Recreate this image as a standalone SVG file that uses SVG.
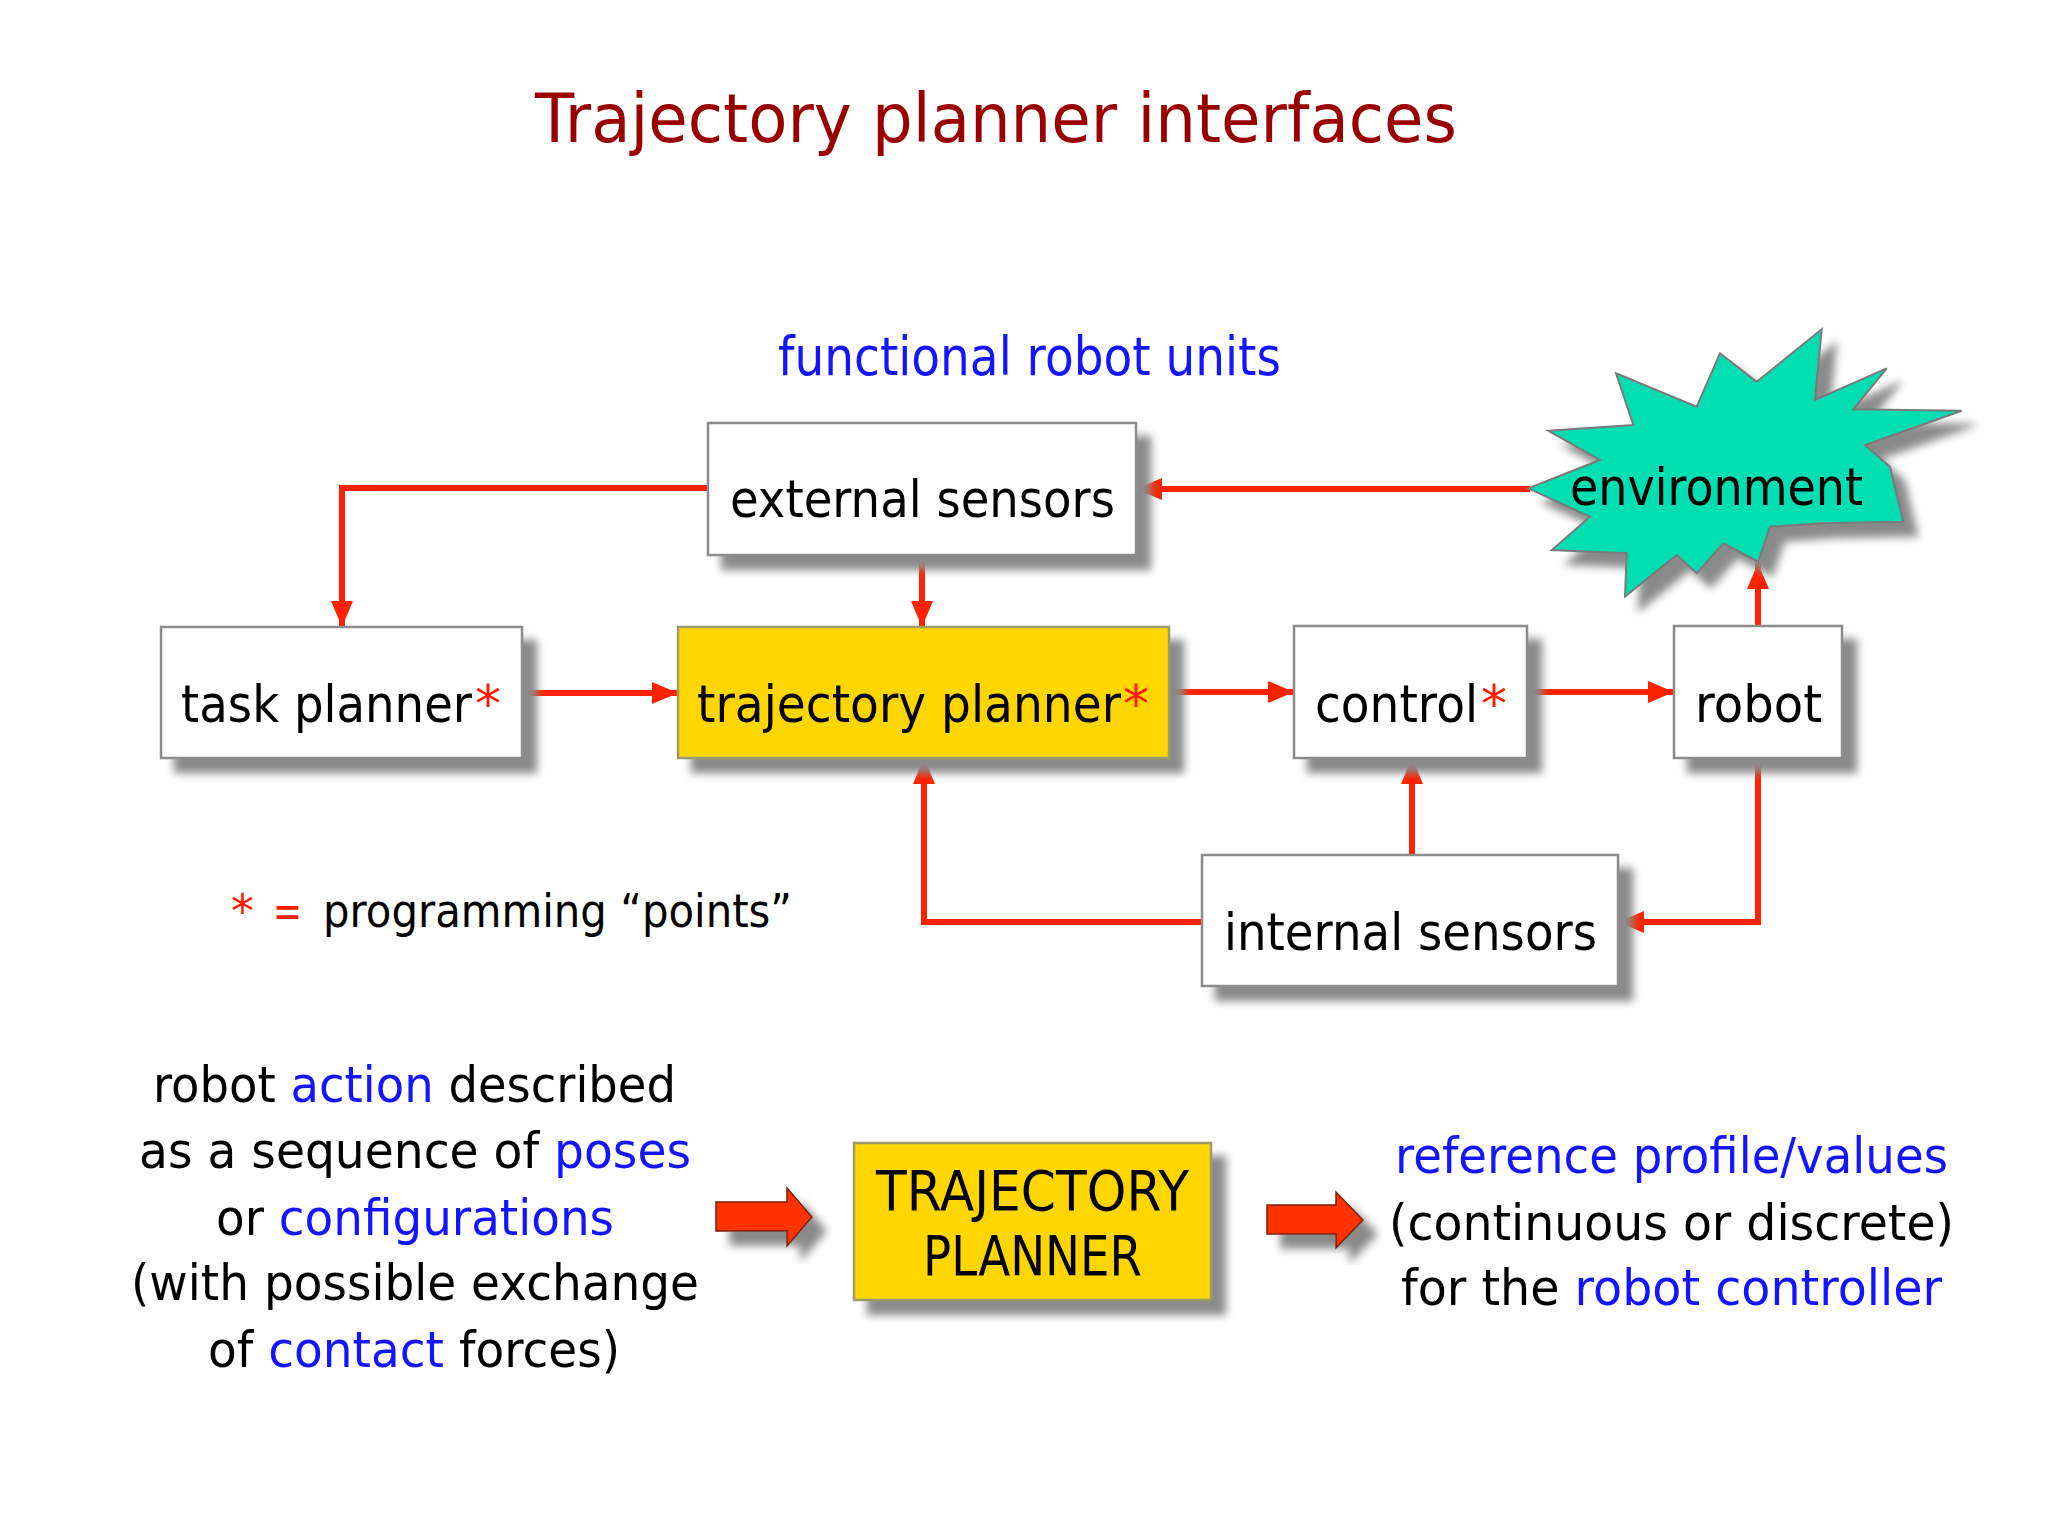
<svg xmlns="http://www.w3.org/2000/svg" width="2048" height="1536" viewBox="0 0 2048 1536">
<defs>
<style>
text{font-family:"DejaVu Sans","Liberation Sans",sans-serif;}
.box{fill:#ffffff;stroke:#8c8c8c;stroke-width:2.5;}
.yel{fill:#ffd600;stroke:#9a9a6a;stroke-width:2.5;}
.lbl{font-size:52px;fill:#000;}
.big{font-size:50px;fill:#000;}
.red{fill:#ff1a00;}
.blue{fill:#1414ff;}
.conn{fill:none;stroke:#ff2200;stroke-width:6;marker-end:url(#ah);}
</style>
<filter id="sh" x="-10%" y="-10%" width="130%" height="140%">
<feGaussianBlur in="SourceAlpha" stdDeviation="4"/>
<feOffset dx="14" dy="14" result="b"/>
<feFlood flood-color="#8a8a8a"/>
<feComposite in2="b" operator="in"/>
<feMerge><feMergeNode/><feMergeNode in="SourceGraphic"/></feMerge>
</filter>
<marker id="ah" viewBox="0 0 26 22" refX="26" refY="11" markerWidth="26" markerHeight="22" markerUnits="userSpaceOnUse" orient="auto">
<path d="M0,0 L26,11 L0,22 z" fill="#ff2200"/>
</marker>
</defs>
<rect width="2048" height="1536" fill="#ffffff"/>

<text id="title" x="535" y="142" font-size="68" fill="#9b0000" textLength="922" lengthAdjust="spacingAndGlyphs">Trajectory planner interfaces</text>
<text id="subtitle" x="778" y="375" font-size="54" class="blue" textLength="503" lengthAdjust="spacingAndGlyphs">functional robot units</text>

<g id="connectors">
<path class="conn" d="M708,488 H342 V627"/>
<path class="conn" d="M922,555 V627"/>
<path class="conn" d="M522,693 H678"/>
<path class="conn" d="M1169,692 H1294"/>
<path class="conn" d="M1527,692 H1674"/>
<path class="conn" d="M1758,626 V563"/>
<path class="conn" d="M1530,489 H1136"/>
<path class="conn" d="M1758,758 V922 H1618"/>
<path class="conn" d="M1412,855 V758"/>
<path class="conn" d="M1202,922 H924 V758"/>
</g>

<g id="external-sensors">
<rect class="box" x="708" y="423" width="428" height="132" filter="url(#sh)"/>
<text class="lbl" x="730" y="517" textLength="385" lengthAdjust="spacingAndGlyphs">external sensors</text>
</g>

<g id="environment">
<polygon points="1821.7,329.3 1815,400 1886.7,368.3 1853.3,409.3 1961.7,410.7 1865,445 1890,466.7 1903.3,521.7 1821.7,523.3 1770,526.7 1758.3,561.7 1723.3,543.3 1696.7,573.3 1676.7,555 1625,596.7 1626.7,553.3 1551.7,550 1590,516.7 1528.3,488.3 1600,460 1548.3,430.7 1633.3,425 1616,373.3 1696.7,406.7 1720,353.3 1756.7,381.7" fill="#00deb2" stroke="#7a7a7a" stroke-width="2" filter="url(#sh)"/>
<text class="lbl" x="1570" y="505" textLength="293" lengthAdjust="spacingAndGlyphs">environment</text>
</g>

<g id="task-planner">
<rect class="box" x="161" y="627" width="361" height="131" filter="url(#sh)"/>
<text class="lbl" x="181" y="722" textLength="291" lengthAdjust="spacingAndGlyphs">task planner</text>
<text class="lbl red" x="475" y="722">*</text>
</g>

<g id="trajectory-planner">
<rect class="yel" x="678" y="627" width="491" height="131" filter="url(#sh)"/>
<text class="lbl" x="697" y="722" textLength="424" lengthAdjust="spacingAndGlyphs">trajectory planner</text>
<text class="lbl red" x="1123" y="722">*</text>
</g>

<g id="control">
<rect class="box" x="1294" y="626" width="233" height="132" filter="url(#sh)"/>
<text class="lbl" x="1315" y="722" textLength="163" lengthAdjust="spacingAndGlyphs">control</text>
<text class="lbl red" x="1481" y="722">*</text>
</g>

<g id="robot">
<rect class="box" x="1674" y="626" width="168" height="132" filter="url(#sh)"/>
<text class="lbl" x="1695" y="722" textLength="127" lengthAdjust="spacingAndGlyphs">robot</text>
</g>

<g id="internal-sensors">
<rect class="box" x="1202" y="855" width="416" height="131" filter="url(#sh)"/>
<text class="lbl" x="1224" y="950" textLength="373" lengthAdjust="spacingAndGlyphs">internal sensors</text>
</g>

<g id="legend">
<text x="231" y="927" font-size="46" class="red">*</text>
<text x="273" y="927" font-size="46" class="red" textLength="29" lengthAdjust="spacingAndGlyphs">=</text>
<text x="323" y="927" font-size="46" fill="#000" textLength="469" lengthAdjust="spacingAndGlyphs">programming “points”</text>
</g>

<g id="input-text">
<text class="big" x="153" y="1102" textLength="523" lengthAdjust="spacingAndGlyphs">robot <tspan class="blue">action</tspan> described</text>
<text class="big" x="139" y="1168" textLength="552" lengthAdjust="spacingAndGlyphs">as a sequence of <tspan class="blue">poses</tspan></text>
<text class="big" x="216" y="1235" textLength="398" lengthAdjust="spacingAndGlyphs">or <tspan class="blue">configurations</tspan></text>
<text class="big" x="131" y="1300" textLength="568" lengthAdjust="spacingAndGlyphs">(with possible exchange</text>
<text class="big" x="208" y="1367" textLength="412" lengthAdjust="spacingAndGlyphs">of <tspan class="blue">contact</tspan> forces)</text>
</g>

<g id="arrow-in">
<polygon points="716,1202 787,1202 787,1188 812,1217 787,1246 787,1231 716,1231" fill="#ff3300" stroke="#7a2000" stroke-width="1.5" filter="url(#sh)"/>
</g>

<g id="trajectory-planner-block">
<rect class="yel" x="854" y="1143" width="357" height="157" filter="url(#sh)"/>
<text x="876" y="1210" font-size="56" fill="#000" textLength="313" lengthAdjust="spacingAndGlyphs">TRAJECTORY</text>
<text x="923" y="1275" font-size="56" fill="#000" textLength="219" lengthAdjust="spacingAndGlyphs">PLANNER</text>
</g>

<g id="arrow-out">
<polygon points="1267,1205 1336,1205 1336,1192 1363,1220 1336,1248 1336,1234 1267,1234" fill="#ff3300" stroke="#7a2000" stroke-width="1.5" filter="url(#sh)"/>
</g>

<g id="output-text">
<text x="1395" y="1173" font-size="50" fill="#1414ff" textLength="553" lengthAdjust="spacingAndGlyphs">reference profile/values</text>
<text class="big" x="1389" y="1240" textLength="565" lengthAdjust="spacingAndGlyphs">(continuous or discrete)</text>
<text class="big" x="1401" y="1305" textLength="541" lengthAdjust="spacingAndGlyphs">for the <tspan class="blue">robot controller</tspan></text>
</g>
</svg>
